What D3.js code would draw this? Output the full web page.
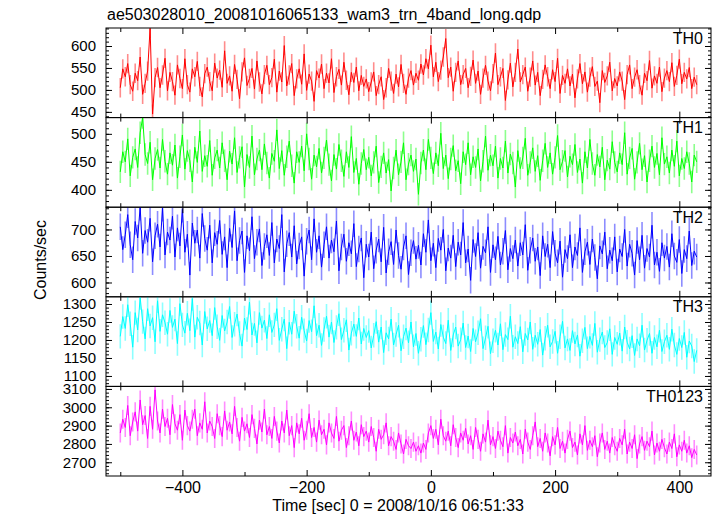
<!DOCTYPE html>
<html><head><meta charset="utf-8">
<script src="https://cdn.jsdelivr.net/npm/d3@7"></script>
<style>
body{margin:0;background:#fff;}
svg{display:block;font-family:"Liberation Sans",Arial,Helvetica,sans-serif;}
</style></head>
<body><svg id="chart" width="717" height="516"></svg>
<script>
const title = "ae503028010_20081016065133_wam3_trn_4band_long.qdp";
const xLabel = "Time [sec] 0 = 2008/10/16 06:51:33";
const yLabel = "Counts/sec";
const bandNames = ["TH0","TH1","TH2","TH3","TH0123"];
const bandColors = ["#ff0000","#00ff00","#0000ff","#00ffff","#ff00ff"];
const bandErrors = [22,20,25,34,52];
const bandDomains = [[437,641],[369,529],[573,742],[1071,1320],[2625,3114]];
const bandTicks = [[450,500,550,600],[400,450,500],[600,650,700],[1100,1150,1200,1250,1300],[2700,2800,2900,3000,3100]];
const bandMinor = [10,10,10,10,20];
const xTicks = [-400,-200,0,200,400];
const tStart = -500, tStep = 4;

const th0 = [505,548,530,560,512,497,538,521,575,490,515,543,640,445,528,551,505,534,572,498,
540,519,488,557,526,503,571,512,495,548,530,565,508,484,537,552,519,498,561,527,
545,506,589,515,532,497,558,524,480,541,573,510,526,549,502,566,518,491,535,556,
512,528,570,495,543,518,601,509,534,560,487,525,548,513,582,499,536,520,474,544,
527,559,503,538,516,571,494,530,547,511,563,522,489,540,517,552,498,533,508,525,
496,518,541,487,512,530,478,505,549,520,492,536,507,558,515,490,527,544,511,538,
522,559,534,571,548,602,530,563,519,545,575,617,528,552,497,540,566,512,535,549,
505,531,568,515,543,490,527,556,520,498,537,584,512,530,549,476,523,561,507,540,
593,518,535,552,497,529,566,511,540,487,524,557,530,503,546,519,572,492,533,515,
548,509,536,482,525,560,514,541,495,529,553,508,520,471,544,517,532,563,498,526,
509,541,520,478,535,557,503,529,546,512,488,538,521,567,504,532,515,552,496,527,
544,519,562,508,533,570,514,540,525,551,503,529,512];
const th1 = [432,468,450,491,425,458,473,440,502,529,463,447,485,418,456,472,439,490,451,428,
466,444,480,421,459,498,437,470,452,414,476,449,505,433,461,442,488,426,457,471,
439,484,452,418,469,446,493,431,458,477,405,463,440,496,427,455,471,436,482,448,
421,465,451,507,438,470,426,459,487,443,412,468,449,478,434,500,455,419,462,441,
474,430,457,489,445,416,463,437,481,452,424,468,440,495,431,456,410,447,472,436,
458,425,449,478,413,441,466,430,454,398,439,471,427,450,484,418,446,462,433,455,
392,448,471,436,490,457,429,466,443,501,438,462,420,455,479,434,452,411,468,445,
484,427,459,440,473,416,451,496,435,462,443,478,421,456,439,487,430,464,448,405,
470,438,457,492,426,449,475,433,461,417,452,483,440,466,428,458,497,436,451,470,
423,460,445,481,431,455,412,468,439,490,447,426,463,441,476,418,453,437,486,449,
432,466,445,502,428,457,474,419,449,483,436,461,414,452,478,440,465,427,493,446,
459,430,471,442,487,425,456,438,468,447,414,462,450];
const th2 = [705,662,690,728,671,643,715,684,742,655,698,676,721,639,688,710,667,740,652,695,
680,725,648,703,669,738,657,691,614,712,674,699,646,730,683,661,708,637,694,672,
717,653,686,628,702,666,735,641,679,697,619,688,660,724,645,676,701,632,668,690,
651,713,637,682,664,728,620,673,694,648,707,635,669,686,612,678,699,643,720,657,
688,629,671,705,646,680,658,716,622,667,691,640,675,654,711,630,663,684,609,672,
648,695,626,661,682,639,704,618,658,677,634,699,651,625,667,688,615,656,679,644,
670,633,692,657,718,641,674,628,683,661,700,622,665,646,689,630,676,652,713,637,
663,604,681,649,694,627,668,656,705,619,671,643,687,633,659,698,624,664,645,680,
631,675,652,709,623,661,684,640,667,613,688,649,672,628,696,655,637,678,610,662,
645,690,628,667,651,703,619,658,676,634,682,647,607,669,654,695,626,661,641,686,
620,663,649,700,631,672,655,614,679,643,689,627,664,648,708,633,657,621,675,646,
668,629,692,650,638,681,617,662,645,697,632,659,648];
const th3 = [1210,1265,1232,1298,1245,1180,1276,1228,1318,1251,1203,1287,1239,1262,1195,1309,1224,1270,1248,1216,
1282,1235,1258,1190,1301,1242,1219,1274,1226,1315,1208,1263,1247,1186,1279,1231,1254,1212,1290,1237,
1199,1268,1225,1250,1293,1207,1244,1272,1218,1183,1261,1229,1305,1214,1246,1192,1276,1233,1255,1204,
1270,1221,1242,1287,1199,1230,1258,1176,1249,1216,1280,1238,1205,1263,1226,1197,1254,1223,1295,1212,
1241,1185,1229,1266,1208,1250,1193,1235,1273,1201,1227,1256,1172,1219,1244,1210,1261,1189,1232,1207,
1226,1178,1213,1251,1194,1236,1165,1220,1203,1258,1186,1215,1241,1170,1209,1233,1192,1250,1181,1218,
1163,1202,1240,1187,1228,1276,1196,1222,1175,1243,1208,1190,1255,1171,1214,1236,1183,1201,1247,1179,
1211,1168,1232,1195,1220,1259,1176,1206,1238,1162,1198,1227,1186,1245,1173,1215,1201,1266,1180,1209,
1190,1237,1167,1218,1200,1250,1174,1213,1188,1229,1158,1205,1241,1181,1196,1224,1163,1209,1252,1178,
1203,1171,1226,1189,1214,1155,1198,1235,1176,1210,1185,1246,1166,1201,1222,1179,1193,1231,1160,1207,
1188,1219,1169,1236,1194,1175,1212,1157,1203,1184,1241,1172,1199,1218,1163,1207,1181,1227,1168,1195,
1213,1174,1230,1186,1160,1204,1179,1221,1152,1197,1183,1140,1171];
const th0123 = [2860,2935,2890,3010,2845,2920,2975,2870,3040,2905,2955,2830,3005,2880,3095,2925,2860,2990,2895,2940,
2850,3015,2910,2875,2960,2820,2985,2900,2870,2935,2990,2845,2915,2880,3030,2860,2925,2895,2830,2965,
2900,2840,2980,2875,2920,2855,3005,2890,2815,2945,2870,2910,2835,2960,2885,2800,2930,2865,2990,2850,
2895,2830,2950,2870,2805,2925,2860,2985,2845,2900,2780,2915,2855,2940,2820,2875,2965,2835,2890,2810,
2930,2850,2880,2795,2915,2860,2830,2950,2815,2875,2900,2780,2845,2925,2820,2865,2790,2905,2840,2870,
2810,2895,2835,2760,2880,2825,2850,2915,2790,2840,2815,2770,2860,2800,2745,2825,2790,2775,2810,2760,
2790,2750,2805,2770,2860,2900,2830,2880,2795,2935,2845,2815,2870,2790,2905,2835,2780,2860,2820,2885,
2800,2845,2770,2890,2825,2760,2855,2810,2930,2795,2840,2775,2870,2820,2785,2900,2750,2835,2805,2865,
2790,2825,2745,2880,2810,2770,2845,2920,2785,2830,2760,2860,2805,2735,2840,2795,2890,2775,2815,2750,
2825,2870,2780,2810,2740,2855,2795,2900,2765,2820,2785,2845,2730,2805,2860,2770,2815,2750,2835,2790,
2760,2830,2795,2880,2745,2810,2775,2850,2720,2800,2840,2765,2815,2785,2870,2740,2805,2760,2825,2780,
2745,2810,2775,2855,2730,2795,2760,2820,2750,2790,2725,2770,2740];
const bandValues = [th0, th1, th2, th3, th0123];

const svg = d3.select("#chart");
const plotLeft = 106, plotRight = 711, plotTop = 28, plotBottom = 476;
const panelH = (plotBottom - plotTop) / bandNames.length;
const fontSize = 16, tickFont = 15;

const x = d3.scaleLinear().domain([-523, 451]).range([plotLeft, plotRight]);

svg.append("text").attr("x", 107).attr("y", 20).attr("font-size", 16).attr("fill", "#000").text(title);

const defs = svg.append("defs");

bandNames.forEach((name, b) => {
  const y0 = plotTop + b * panelH, y1 = y0 + panelH;
  const y = d3.scaleLinear().domain(bandDomains[b]).range([y1, y0]);
  const g = svg.append("g");
  defs.append("clipPath").attr("id", "clip" + b).append("rect")
    .attr("x", plotLeft).attr("y", y0).attr("width", plotRight - plotLeft).attr("height", panelH);
  const data = bandValues[b].map((v, i) => ({t: tStart + i * tStep, v}));
  const dg = g.append("g").attr("clip-path", `url(#clip${b})`);
  dg.selectAll("line.err").data(data).join("line").attr("class", "err")
    .attr("x1", d => x(d.t)).attr("x2", d => x(d.t))
    .attr("y1", d => y(d.v - bandErrors[b])).attr("y2", d => y(d.v + bandErrors[b]))
    .attr("stroke", bandColors[b]).attr("stroke-opacity", 0.45).attr("stroke-width", 1.6);
  dg.append("path").datum(data)
    .attr("d", d3.line().x(d => x(d.t)).y(d => y(d.v)))
    .attr("fill", "none").attr("stroke", bandColors[b]).attr("stroke-width", 1);

  const minorY = d3.range(Math.ceil(bandDomains[b][0] / bandMinor[b]) * bandMinor[b], bandDomains[b][1], bandMinor[b]);
  const yl = g.append("g").attr("transform", `translate(${plotLeft},0)`)
    .call(d3.axisRight(y).tickValues(minorY).tickSize(3).tickFormat(""));
  yl.select(".domain").remove();
  const yl2 = g.append("g").attr("transform", `translate(${plotLeft},0)`)
    .call(d3.axisRight(y).tickValues(bandTicks[b]).tickSize(6).tickFormat(""));
  yl2.select(".domain").remove();
  const ylab = g.append("g").attr("transform", `translate(${plotLeft},0)`)
    .call(d3.axisLeft(y).tickValues(bandTicks[b]).tickSize(0).tickPadding(10).tickFormat(d3.format("d")));
  ylab.select(".domain").remove();
  ylab.selectAll("text").attr("font-size", tickFont).attr("font-family", "Liberation Sans, Arial, sans-serif").attr("fill", "#000");
  const yr = g.append("g").attr("transform", `translate(${plotRight},0)`)
    .call(d3.axisLeft(y).tickValues(minorY).tickSize(3).tickFormat(""));
  yr.select(".domain").remove();
  const yr2 = g.append("g").attr("transform", `translate(${plotRight},0)`)
    .call(d3.axisLeft(y).tickValues(bandTicks[b]).tickSize(6).tickFormat(""));
  yr2.select(".domain").remove();

  const minorX = d3.range(-500, 451, 100).filter(v => !xTicks.includes(v));
  [[y1, d3.axisTop], [y0, d3.axisBottom]].forEach(([yy, ax]) => {
    const a1 = g.append("g").attr("transform", `translate(0,${yy})`).call(ax(x).tickValues(xTicks).tickSize(6).tickFormat(""));
    a1.select(".domain").remove();
    const a2 = g.append("g").attr("transform", `translate(0,${yy})`).call(ax(x).tickValues(minorX).tickSize(4).tickFormat(""));
    a2.select(".domain").remove();
  });

  g.append("text").attr("x", 703).attr("y", y0 + 15.5).attr("text-anchor", "end")
    .attr("font-size", fontSize).attr("fill", "#000").text(name);

  g.append("rect").attr("x", plotLeft).attr("y", y0).attr("width", plotRight - plotLeft).attr("height", panelH)
    .attr("fill", "none").attr("stroke", "#000").attr("stroke-width", 1);
});

svg.selectAll(".tick line").attr("stroke", "#000");

const xa = svg.append("g").attr("transform", `translate(0,${plotBottom})`)
  .call(d3.axisBottom(x).tickValues(xTicks).tickSize(0).tickPadding(6).tickFormat(d => d < 0 ? "\u2212" + Math.abs(d) : d));
xa.select(".domain").remove();
xa.selectAll("text").attr("font-size", fontSize).attr("font-family", "Liberation Sans, Arial, sans-serif").attr("fill", "#000");

svg.append("text").attr("x", 398).attr("y", 511).attr("text-anchor", "middle")
  .attr("font-size", fontSize).attr("fill", "#000").text(xLabel);
svg.append("text").attr("transform", "translate(46,260) rotate(-90)").attr("text-anchor", "middle")
  .attr("font-size", fontSize).attr("fill", "#000").text(yLabel);
</script></body></html>
